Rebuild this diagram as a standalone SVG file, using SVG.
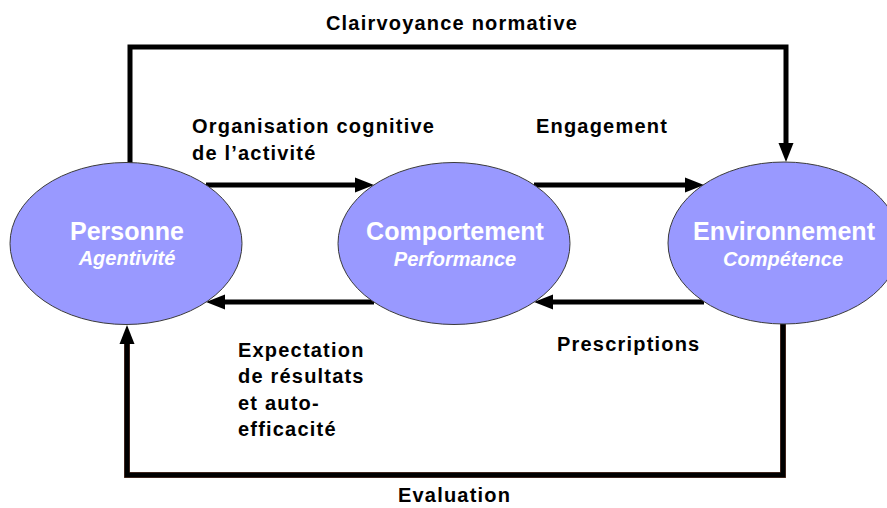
<svg xmlns="http://www.w3.org/2000/svg" width="887" height="508" viewBox="0 0 887 508">
<style>
.node{fill:#9999FF;stroke:#3a3a3a;stroke-width:1}
.title{font-family:"Liberation Sans",Arial,sans-serif;font-weight:bold;font-size:25px;fill:#fff;text-anchor:middle}
.sub{font-family:"Liberation Sans",Arial,sans-serif;font-weight:bold;font-style:italic;font-size:20px;fill:#fff;text-anchor:middle}
.lbl{font-family:"Liberation Sans",Arial,sans-serif;font-weight:bold;font-size:20px;fill:#000;letter-spacing:1.2px}
.conn{fill:none;stroke:#000;stroke-width:5;stroke-linejoin:miter}
</style>
<defs>
<marker id="ah" markerUnits="userSpaceOnUse" markerWidth="20" markerHeight="16" refX="9" refY="7.5" orient="auto" overflow="visible">
<path d="M0,0 L19,7.5 L0,15 Z" fill="#000"/>
</marker>
</defs>
<g id="connectors">
<path class="conn" d="M130,163 V47 H786 V152" marker-end="url(#ah)"/>
<path d="M783,324 V475 H127 V335" fill="none" stroke="#7a4a3a" stroke-width="6"/>
<path class="conn" d="M783,324 V475 H127 V335" stroke-width="4.5" marker-end="url(#ah)"/>
<path class="conn" d="M206,185 H364" marker-end="url(#ah)"/>
<path class="conn" d="M534,185 H694" marker-end="url(#ah)"/>
<path class="conn" d="M374,302 H216" marker-end="url(#ah)"/>
<path class="conn" d="M704,302 H544" marker-end="url(#ah)"/>
</g>
<g id="labels">
<text class="lbl" x="452" y="30" text-anchor="middle">Clairvoyance normative</text>
<text class="lbl" x="192" y="133">Organisation cognitive</text>
<text class="lbl" x="192" y="160">de l’activité</text>
<text class="lbl" x="536" y="133">Engagement</text>
<text class="lbl" x="557" y="351">Prescriptions</text>
<text class="lbl" x="238" y="357">Expectation</text>
<text class="lbl" x="238" y="383">de résultats</text>
<text class="lbl" x="238" y="410">et auto-</text>
<text class="lbl" x="238" y="436">efficacité</text>
<text class="lbl" x="398" y="502">Evaluation</text>
</g>
<g id="personne">
<ellipse class="node" cx="126" cy="243.5" rx="116" ry="81"/>
<text class="title" x="127" y="240">Personne</text>
<text class="sub" x="127" y="265">Agentivité</text>
</g>
<g id="comportement">
<ellipse class="node" cx="454" cy="243.5" rx="116" ry="81"/>
<text class="title" x="455" y="240">Comportement</text>
<text class="sub" x="455" y="266">Performance</text>
</g>
<g id="environnement">
<ellipse class="node" cx="784" cy="243" rx="116" ry="81"/>
<text class="title" x="784" y="240">Environnement</text>
<text class="sub" x="783" y="266">Compétence</text>
</g>
</svg>
